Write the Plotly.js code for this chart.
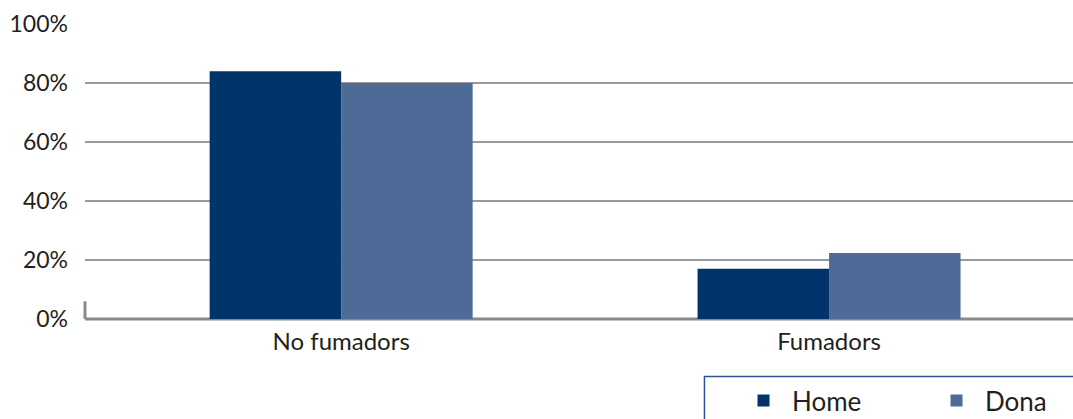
<!DOCTYPE html>
<html>
<head>
<meta charset="utf-8">
<script src="https://cdn.plot.ly/plotly-3.0.1.min.js"></script>
<style>html,body{margin:0;padding:0;background:#fff;}#chart{width:1073px;height:419px;}</style>
</head>
<body>
<div id="chart"></div>
<script>
const categories = ["No fumadors", "Fumadors"];
const homeValues = [84, 17];
const donaValues = [80, 22.4];
const seriesNames = ["Home", "Dona"];
const yTickVals = [0, 20, 40, 60, 80, 100];
const yTickText = ["0%", "20%", "40%", "60%", "80%", "100%"];

const traces = [
  {type: "bar", name: seriesNames[0], x: categories, y: homeValues, marker: {color: "#02336a"}},
  {type: "bar", name: seriesNames[1], x: categories, y: donaValues, marker: {color: "#4e6b97"}}
];

const fontFam = "Lato, 'Open Sans', sans-serif";
const layout = {
  width: 1073, height: 419,
  margin: {l: 85, r: 0, t: 24, b: 100, autoexpand: false},
  paper_bgcolor: "#fff", plot_bgcolor: "#fff",
  barmode: "group", bargap: 0.461, bargroupgap: 0,
  showlegend: true,
  legend: {orientation: "h", xref: "container", yref: "container", x: 0.685, xanchor: "left", y: 0.1, yanchor: "top",
           font: {family: fontFam, size: 26, color: "#231f20"}, itemwidth: 47, entrywidth: 131, entrywidthmode: "pixels",
           bgcolor: "rgba(0,0,0,0)", traceorder: "normal"},
  xaxis: {type: "category", range: [-0.525, 1.5], showgrid: false, showline: false, zeroline: false,
          ticks: "", ticklabelstandoff: 6, tickfont: {family: fontFam, size: 24, color: "#231f20"}, fixedrange: true},
  yaxis: {range: [0, 100], tickvals: yTickVals, ticktext: yTickText, showgrid: true,
          gridcolor: "#9a9a9a", gridwidth: 2, zeroline: false, showline: false, ticks: "",
          ticklabelstandoff: 16, tickfont: {family: fontFam, size: 23, color: "#231f20"}, fixedrange: true},
  shapes: [
    {type: "line", xref: "paper", yref: "paper", x0: 0, x1: 1, y0: 0, y1: 0, line: {color: "#8a8a8a", width: 3}, layer: "below"},
    {type: "line", xref: "paper", yref: "paper", x0: 0, x1: 0, y0: 0, y1: 0.06, line: {color: "#8a8a8a", width: 3}},
    {type: "rect", xref: "paper", yref: "paper", x0: 0.627, x1: 1.02, y0: -0.195, y1: -0.4, line: {color: "#2a5590", width: 1.5}, fillcolor: "rgba(0,0,0,0)"}
  ]
};
Plotly.newPlot("chart", traces, layout, {displayModeBar: false, staticPlot: true});
</script>
</body>
</html>
